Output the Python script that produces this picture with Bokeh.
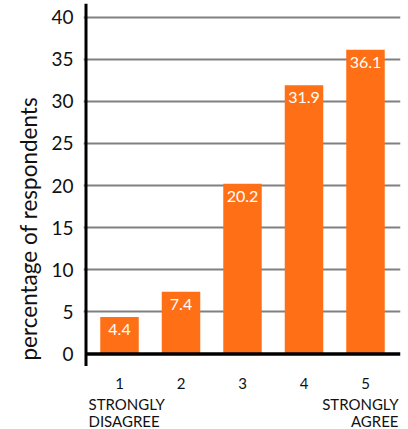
from bokeh.plotting import figure
from bokeh.models import FixedTicker, Range1d, ColumnDataSource, Title
from bokeh.core.properties import value
from bokeh.embed import file_html
from bokeh.resources import INLINE

# Survey responses on a 1-5 agreement scale
categories = [1, 2, 3, 4, 5]
percentages = [4.4, 7.4, 20.2, 31.9, 36.1]
value_labels = ["4.4", "7.4", "20.2", "31.9", "36.1"]
category_labels = ["1", "2", "3", "4", "5"]
y_ticks = [0, 5, 10, 15, 20, 25, 30, 35, 40]

FONT = "Lato"
ORANGE = "#FF6F15"

px_per_unit_x = 61.5
px_per_unit_y = 8.425
frame_w, frame_h = 317, 426
x0 = 1 - 36 / px_per_unit_x
y_top = 40 + 13.5 / px_per_unit_y
y_bottom = y_top - frame_h / px_per_unit_y

p = figure(width=408, height=429, output_backend="svg", toolbar_location=None,
           x_range=Range1d(x0, x0 + frame_w / px_per_unit_x),
           y_range=Range1d(y_bottom, y_top),
           x_axis_location=None, min_border_left=83, min_border_right=8,
           min_border_top=3, min_border_bottom=0)
p.outline_line_color = None
p.background_fill_color = "white"
p.border_fill_color = "white"

# y axis: labels only, the line is drawn separately
p.yaxis.ticker = FixedTicker(ticks=y_ticks)
p.yaxis.axis_line_color = None
p.yaxis.major_tick_line_color = None
p.yaxis.minor_tick_line_color = None
p.yaxis.major_label_standoff = 4
p.yaxis.major_label_text_font = FONT
p.yaxis.major_label_text_font_size = "19px"
p.yaxis.major_label_text_color = "#111111"

p.xgrid.visible = False
p.ygrid.ticker = FixedTicker(ticks=y_ticks[1:])
p.ygrid.grid_line_color = "#808080"
p.ygrid.grid_line_width = 2

# axis title, started a little above the bottom of the frame
p.add_layout(Title(text="percentage of respondents", align="left",
                   text_font=FONT, text_font_size="22.5px", text_font_style="normal",
                   text_color="#111111", offset=69, standoff=14), "left")

src = ColumnDataSource(dict(x=categories, top=percentages, lab=value_labels,
                            cat=category_labels))

p.vbar(x="x", top="top", bottom=0, width=38.5 / px_per_unit_x, source=src,
       fill_color=ORANGE, line_color=None)

# axis lines
axis_x = x0 + 2.5 / px_per_unit_x
p.segment(x0=[axis_x], y0=[-12 / px_per_unit_y], x1=[axis_x], y1=[y_top],
          line_color="black", line_width=3)
p.segment(x0=[axis_x], y0=[0], x1=[x0 + frame_w / px_per_unit_x], y1=[0],
          line_color="black", line_width=3.5)

p.text(x="x", y="top", text="lab", source=src, text_color="white",
       text_font=value(FONT), text_font_size="16px", text_align="center",
       text_baseline="top", y_offset=7)

p.text(x="x", y=0, text="cat", source=src, text_color="#111111",
       text_font=value(FONT), text_font_size="15px", text_align="center",
       text_baseline="middle", y_offset=29)

p.text(x=[categories[0]], y=[0], text=["STRONGLY\nDISAGREE"], text_color="#111111",
       text_font=value(FONT), text_font_size="15px", text_align="left",
       text_baseline="top", x_offset=-31, y_offset=41, text_line_height=0.95)
p.text(x=[categories[-1]], y=[0], text=["STRONGLY\nAGREE"], text_color="#111111",
       text_font=value(FONT), text_font_size="15px", text_align="right",
       text_baseline="top", x_offset=33, y_offset=41, text_line_height=0.95)

open("out.html", "w").write(file_html(p, INLINE))
